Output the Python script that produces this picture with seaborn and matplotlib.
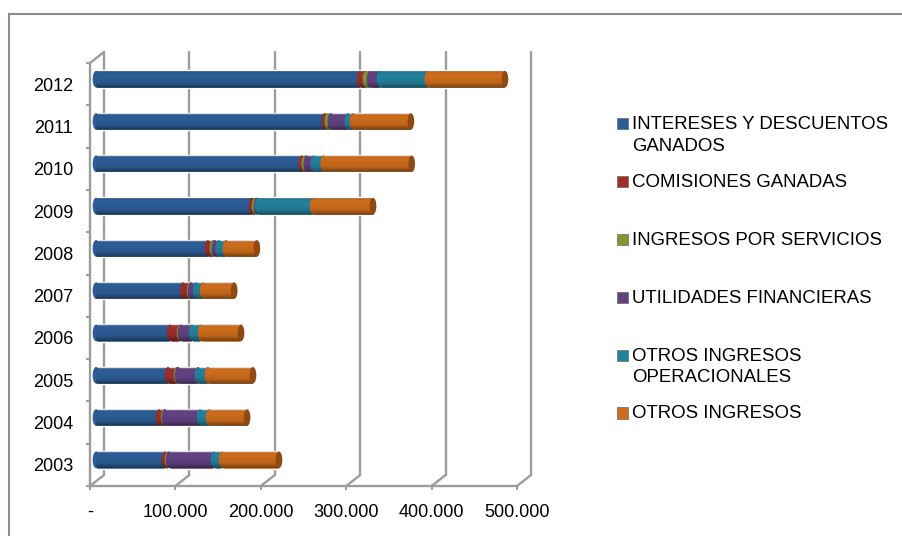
import numpy as np
import pandas as pd
import seaborn as sns
import matplotlib.pyplot as plt
from matplotlib.patches import Ellipse, Rectangle, ConnectionPatch
from matplotlib.legend_handler import HandlerPatch

years = ['2012', '2011', '2010', '2009', '2008', '2007', '2006', '2005', '2004', '2003']
names = ['INTERESES Y DESCUENTOS\nGANADOS', 'COMISIONES GANADAS\n', 'INGRESOS POR SERVICIOS\n',
         'UTILIDADES FINANCIERAS\n', 'OTROS INGRESOS\nOPERACIONALES', 'OTROS INGRESOS\n']
colors = ['#2c5d96', '#9c2f2c', '#7d9a35', '#634282', '#24819c', '#cc6c1c']

intereses = [309100, 268000, 241000, 182700, 131000, 102000, 86700, 84300, 73800, 80800]
comisiones = [7000, 3500, 3500, 3500, 5900, 8200, 11700, 10500, 5900, 3500]
servicios = [4700, 3500, 2300, 2300, 2300, 1200, 1200, 1200, 1200, 1200]
utilidades = [11700, 19900, 8200, 1200, 4700, 5900, 12900, 23400, 41000, 52700]
otros_op = [56200, 5900, 11700, 64400, 8200, 8200, 10500, 11700, 10500, 9400]
otros = [90200, 67900, 103000, 70300, 36300, 36300, 46800, 52700, 44500, 66700]
series = [intereses, comisiones, servicios, utilidades, otros_op, otros]
xticks = [0, 100000, 200000, 300000, 400000, 500000]
xlabels = ['-', '100.000', '200.000', '300.000', '400.000', '500.000']

W, H = 902, 536
GREY = '#9c9c9c'


def box(x0, y0, x1, y1):
    # pixel box (from top left) to figure fractions
    return [x0 / W, 1 - y1 / H, (x1 - x0) / W, (y1 - y0) / H]


def legendHandle(legend, orig_handle, xdescent, ydescent, width, height, fontsize):
    # multi line labels sit on their last line, move the square up to the first
    return Rectangle((0, 9), 8, 8)


sns.set_theme(style='white')
plt.rcParams['font.family'] = ['Liberation Sans', 'DejaVu Sans']

fig = plt.figure(figsize=(W / 100, H / 100), dpi=100)
fig.add_artist(Rectangle((9 / W, -0.1), 1, 1.1 - 14 / H, transform=fig.transFigure,
                         fill=False, edgecolor='#8c8c8c', lw=1.5))

# back wall, floor axis and bars are three axes shifted to fake the 3D depth
wall = fig.add_axes(box(104, 52, 531, 475))
ax = fig.add_axes(box(90, 63, 517, 486))
bars = fig.add_axes(box(96, 58, 523, 481))
for a in [wall, ax, bars]:
    a.patch.set_alpha(0)
    a.set_xlim(0, 500000)

wall.set_ylim(0, 1)
wall.set_yticks([])
wall.set_xticks(xticks)
wall.set_xticklabels([])
wall.tick_params(length=0)
wall.grid(axis='x', color=GREY, lw=1.7)
for g in wall.get_xgridlines():
    g.set_clip_on(False)
for s in wall.spines.values():
    s.set_visible(False)

left = np.zeros(len(years))
for i, vals in enumerate(series):
    df = pd.DataFrame({'year': years, 'value': vals})
    sns.barplot(data=df, y='year', x='value', order=years, orient='h', color=colors[i], saturation=1,
                width=0.41, left=left, ax=bars, zorder=2 + i, legend=False)
    for j in range(len(years)):
        bars.add_patch(Ellipse((left[j], j), 7800, 0.39, color=colors[i], lw=0, zorder=2 + i, clip_on=False))
    left = left + np.array(vals)

# cylinder shading, dark on both edges
shade = np.zeros((32, 1, 4))
shade[:, 0, 3] = np.interp(np.linspace(0, 1, 32), [0, 0.1, 0.3, 0.7, 1], [0.15, 0.02, 0, 0.08, 0.42])
for j in range(len(years)):
    bars.imshow(shade, extent=(0, left[j], j + 0.2, j - 0.2), aspect='auto', zorder=10, interpolation='bilinear')
    bars.add_patch(Ellipse((left[j], j), 7800, 0.39, color='#8f4a14', lw=0, zorder=11, clip_on=False))
bars.set_xlim(0, 500000)
bars.set_ylim(len(years) - 0.5, -0.5)
bars.axis('off')

ax.set_ylim(len(years) - 0.5, -0.5)
ax.set_yticks(np.arange(len(years)))
ax.set_yticklabels(years, fontsize=13, color='black')
ax.set_xticks(xticks)
ax.set_xticklabels(xlabels, fontsize=13, color='black')
ax.set_xlabel('')
ax.set_ylabel('')
ax.tick_params(axis='y', length=0, pad=12)
ax.tick_params(axis='x', length=3, width=1.5, color=GREY, pad=10, bottom=True)
ax.set_yticks(np.arange(len(years) + 1) - 0.5, minor=True)
ax.tick_params(axis='y', which='minor', length=3, width=1.5, color=GREY, left=True)
for s in ['top', 'right']:
    ax.spines[s].set_visible(False)
for s in ['left', 'bottom']:
    ax.spines[s].set_color(GREY)
    ax.spines[s].set_linewidth(1.7)

# slanted floor lines between the front axis and the back wall
for t in xticks:
    fig.add_artist(ConnectionPatch((t, 0), (t, 0), coordsA=ax.get_xaxis_transform(),
                                   coordsB=wall.get_xaxis_transform(), color=GREY, lw=1.7))
fig.add_artist(ConnectionPatch((0, 1), (0, 1), coordsA=ax.get_xaxis_transform(),
                               coordsB=wall.get_xaxis_transform(), color=GREY, lw=1.7))

handles = [Rectangle((0, 0), 1, 1, facecolor=c, edgecolor='#555555', lw=0.4) for c in colors]
leg = fig.legend(handles, names, loc='upper left', bbox_to_anchor=(600 / W, 1 - 99.5 / H), frameon=False,
                 fontsize=13.4, labelspacing=1.05, handlelength=0.6, handletextpad=0.2, labelcolor='black',
                 handler_map={Rectangle: HandlerPatch(patch_func=legendHandle)})
for t in leg.get_texts():
    t.set_linespacing(1.33)

fig.savefig('out.png', dpi=100)
